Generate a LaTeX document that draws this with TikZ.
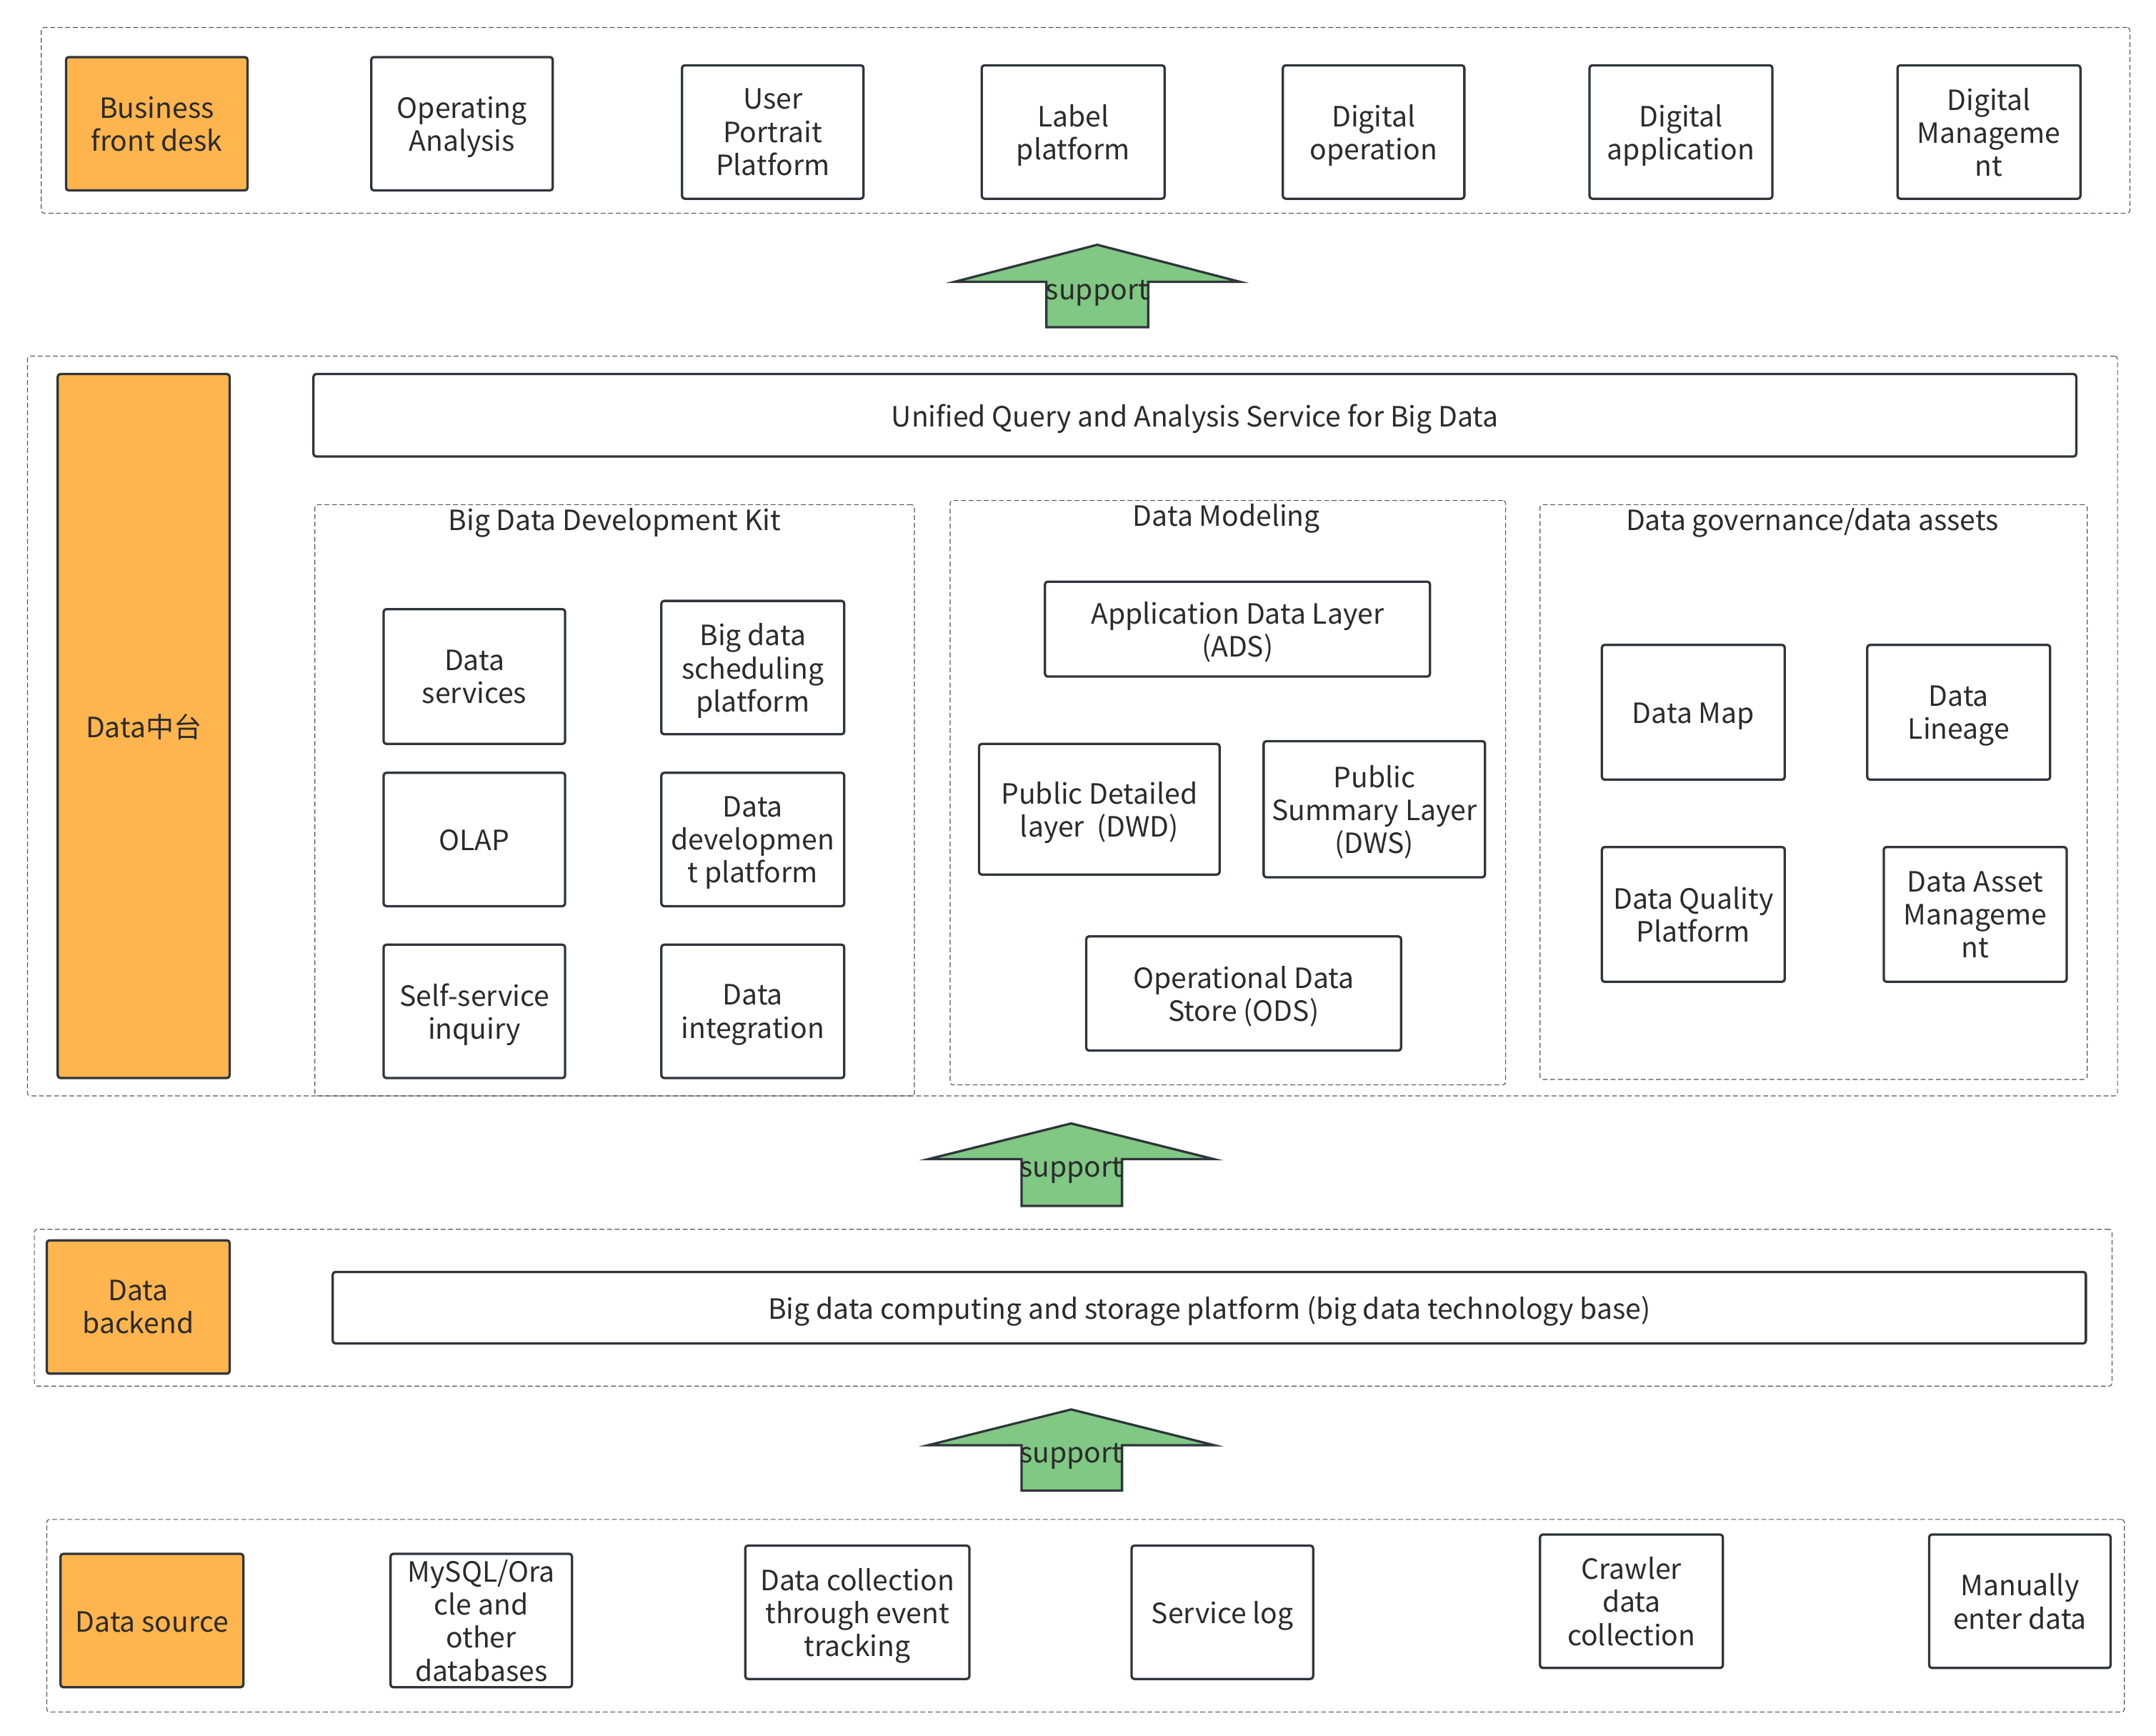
\documentclass[tikz,border=0pt]{standalone}
\usepackage{fontspec}
\setmainfont{Noto Sans CJK SC}
\definecolor{dark}{HTML}{2F353B}
\definecolor{txt}{HTML}{2B2B2B}
\definecolor{orng}{HTML}{FFB54D}
\definecolor{grn}{HTML}{80C884}
\definecolor{dsh}{HTML}{555555}
\tikzset{
  box/.style={draw=dark, line width=1.7pt, rounded corners=2pt, fill=white, align=center,
    text=txt, font=\fontsize{20.3}{24}\selectfont, inner sep=2pt, text depth=0pt},
  obox/.style={box, fill=orng},
  one/.style={text height=19pt, text depth=2.5pt},
  cont/.style={draw=dsh, line width=0.6pt, dash pattern=on 3.5pt off 2pt, rounded corners=2pt, inner sep=0pt},
  ttl/.style={text=txt, font=\fontsize{20.3}{24}\selectfont, inner sep=0pt},
  barrow/.style={draw=dark, line width=1.7pt, fill=grn, line join=miter},
}
\begin{document}
\begin{tikzpicture}[x=1pt,y=-1pt]
\useasboundingbox (0,0) rectangle (1568,1262);
% containers
\node[cont, minimum width=1519, minimum height=135] (top) at (789.5,87.5) {};
\node[cont, minimum width=1520, minimum height=538] (mid) at (780,528) {};
\node[cont, minimum width=436, minimum height=430] (kit) at (447,582) {};
\node[cont, minimum width=404, minimum height=425] (model) at (893,576.5) {};
\node[cont, minimum width=398, minimum height=418] (gov) at (1319,576) {};
\node[cont, minimum width=1511, minimum height=114] (back) at (780.5,951) {};
\node[cont, minimum width=1511, minimum height=140] (src) at (789.5,1175) {};
% titles
\node[ttl] (tkit) at (447,380) {Big Data Development Kit};
\node[ttl] (tmodel) at (892,377) {Data Modeling};
\node[ttl] (tgov) at (1318,380) {Data governance/data assets};
% top row
\node[obox, minimum width=132, minimum height=97] (bfd) at (114,90) {Business\\front desk};
\node[box, minimum width=132, minimum height=97] (opa) at (336,90) {Operating\\Analysis};
\node[box, minimum width=132, minimum height=97] (upp) at (562,96) {User\\Portrait\\Platform};
\node[box, minimum width=133, minimum height=97] (lab) at (780.5,96) {Label\\platform};
\node[box, minimum width=132, minimum height=97] (dop) at (999,96) {Digital\\operation};
\node[box, minimum width=133, minimum height=97] (dap) at (1222.5,96) {Digital\\application};
\node[box, minimum width=133, minimum height=97] (dmg) at (1446.5,96) {Digital\\Manageme\\nt};
% middle
\node[obox, one, minimum width=125, minimum height=512] (dzt) at (104.5,528) {Data中台};
\node[box, one, minimum width=1282, minimum height=60] (uq) at (869,302) {Unified Query and Analysis Service for Big Data};
\node[box, minimum width=132, minimum height=98] (ds) at (345,492) {Data\\services};
\node[box, minimum width=133, minimum height=97] (bds) at (547.5,485.5) {Big data\\scheduling\\platform};
\node[box, one, minimum width=132, minimum height=97] (olap) at (345,610.5) {OLAP};
\node[box, minimum width=133, minimum height=97] (ddp) at (547.5,610.5) {Data\\developmen\\t platform};
\node[box, minimum width=132, minimum height=97] (ssi) at (345,735.5) {Self-service\\inquiry};
\node[box, minimum width=133, minimum height=97] (di) at (547.5,735.5) {Data\\integration};
\node[box, minimum width=280, minimum height=69] (ads) at (900,457.5) {Application Data Layer\\(ADS)};
\node[box, minimum width=175, minimum height=95] (dwd) at (799.5,588.5) {Public Detailed\\layer\ \ (DWD)};
\node[box, minimum width=161, minimum height=99] (dws) at (999.5,588.5) {Public\\Summary Layer\\(DWS)};
\node[box, minimum width=229, minimum height=83] (ods) at (904.5,722.5) {Operational Data\\Store (ODS)};
\node[box, one, minimum width=133, minimum height=98] (dmap) at (1231.5,518) {Data Map};
\node[box, minimum width=133, minimum height=98] (dlin) at (1424.5,518) {Data\\Lineage};
\node[box, minimum width=133, minimum height=98] (dqp) at (1231.5,665) {Data Quality\\Platform};
\node[box, minimum width=133, minimum height=98] (dam) at (1436.5,665) {Data Asset\\Manageme\\nt};
% backend
\node[obox, minimum width=133, minimum height=97] (dbk) at (100.5,950.5) {Data\\backend};
\node[box, one, minimum width=1275, minimum height=52] (bdc) at (879.5,951) {Big data computing and storage platform (big data technology base)};
% sources
\node[obox, one, minimum width=133, minimum height=97] (dsrc) at (110.5,1178.5) {Data source};
\node[box, minimum width=132, minimum height=97] (mysql) at (350,1178.5) {MySQL/Ora\\cle and\\other\\databases};
\node[box, minimum width=163, minimum height=97] (dcet) at (623.5,1172.5) {Data collection\\through event\\tracking};
\node[box, one, minimum width=132, minimum height=97] (slog) at (889,1172.5) {Service log};
\node[box, minimum width=133, minimum height=97] (crawl) at (1186.5,1164.5) {Crawler\\data\\collection};
\node[box, minimum width=132, minimum height=97] (manu) at (1469,1164.5) {Manually\\enter data};
% support arrows
\draw[barrow] (798,178) -- (902,205) -- (835,205) -- (835,238) -- (761,238) -- (761,205) -- (694,205) -- cycle;
\node[ttl] (s1) at (798,213) {support};
\draw[barrow] (779,817) -- (883,843) -- (816,843) -- (816,877) -- (743,877) -- (743,843) -- (675,843) -- cycle;
\node[ttl] (s2) at (779,851) {support};
\draw[barrow] (779,1025) -- (883,1051) -- (816,1051) -- (816,1084) -- (743,1084) -- (743,1051) -- (675,1051) -- cycle;
\node[ttl] (s3) at (779,1059) {support};
\end{tikzpicture}
\end{document}
